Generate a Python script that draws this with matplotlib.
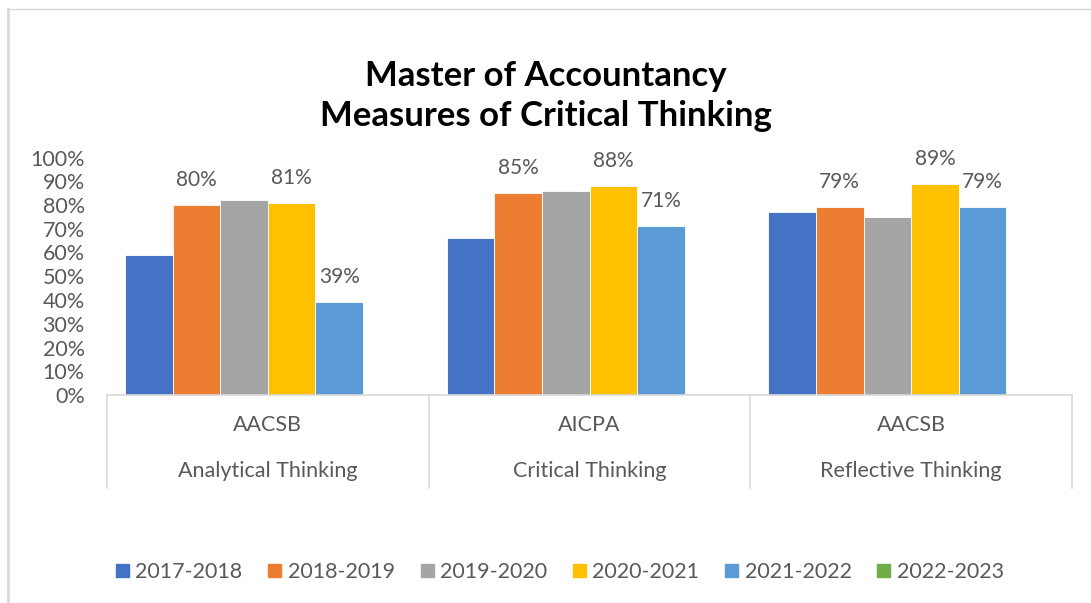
import numpy as np
import matplotlib
matplotlib.use("Agg")
import matplotlib.pyplot as plt
from matplotlib.transforms import blended_transform_factory
from matplotlib.lines import Line2D

plt.rcParams['font.family'] = ['Lato', 'DejaVu Sans']

groups = ["AACSB", "AICPA", "AACSB"]
categories = ["Analytical Thinking", "Critical Thinking", "Reflective Thinking"]
years = ["2017-2018", "2018-2019", "2019-2020", "2020-2021", "2021-2022", "2022-2023"]
values = {
    "2017-2018": [0.59, 0.66, 0.77],
    "2018-2019": [0.80, 0.85, 0.79],
    "2019-2020": [0.82, 0.86, 0.75],
    "2020-2021": [0.81, 0.88, 0.89],
    "2021-2022": [0.39, 0.71, 0.79],
    "2022-2023": [np.nan, np.nan, np.nan],
}
labelled = ["2018-2019", "2020-2021", "2021-2022"]
colors = ["#4472C4", "#ED7D31", "#A5A5A5", "#FFC000", "#5B9BD5", "#70AD47"]

fig = plt.figure(figsize=(10.91, 6.03), dpi=100)
ax = fig.add_axes([107 / 1091, 1 - 395 / 603, (1072 - 107) / 1091, 237.5 / 603])

x = np.arange(len(categories))
w = 0.148
text_col = "#595959"
line_col = "#D9D9D9"

for i, yr in enumerate(years):
    pos = x + (i - 2.5) * w
    vals = values[yr]
    ax.bar(pos, vals, w, color=colors[i], edgecolor="white", linewidth=0.6, label=yr)
    if yr in labelled:
        for px, v in zip(pos, vals):
            ax.annotate(f"{v:.0%}", (px, v), xytext=(0, 18), textcoords="offset points",
                        ha="center", va="center", fontsize=15, color=text_col)

ax.set_xlim(-0.5, 2.5)
ax.set_ylim(0, 1)
ax.set_yticks(np.arange(0, 1.01, 0.1))
ax.set_yticklabels([f"{t:.0%}" for t in np.arange(0, 1.01, 0.1)], fontsize=15.5, color=text_col)
ax.tick_params(axis="y", length=0, pad=16)
ax.set_xticks([])
for s in ax.spines.values():
    s.set_visible(False)

# two-level category axis
tr = blended_transform_factory(ax.transData, fig.transFigure)
y_base = 1 - 395 / 603
y_bot = 1 - 488 / 603
ax.add_line(Line2D([-0.5, 2.5], [y_base, y_base], transform=tr, color=line_col, lw=1.2, clip_on=False))
for xb in [-0.5, 0.5, 1.5, 2.5]:
    ax.add_line(Line2D([xb, xb], [y_base, y_bot], transform=tr, color=line_col, lw=1.2, clip_on=False))
for xi, g, c in zip(x, groups, categories):
    ax.text(xi, 1 - 425 / 603, g, transform=tr, ha="center", va="center", fontsize=15.5, color=text_col)
    ax.text(xi, 1 - 471 / 603, c, transform=tr, ha="center", va="center", fontsize=15.5, color=text_col)

fig.text(0.5, 1 - 96 / 603, "Master of Accountancy\nMeasures of Critical Thinking",
         ha="center", va="center", fontsize=25, fontweight="bold", color="black", linespacing=1.3)

# chart border
fig.add_artist(Line2D([7.5 / 1091, 7.5 / 1091], [0, 1 - 9 / 603], transform=fig.transFigure, color=line_col, lw=2))
fig.add_artist(Line2D([7.5 / 1091, 1], [1 - 9 / 603, 1 - 9 / 603], transform=fig.transFigure, color=line_col, lw=1))

handles = [plt.Rectangle((0, 0), 1, 1, color=c) for c in colors]
fig.legend(handles, years, loc="center", bbox_to_anchor=(560 / 1091, 1 - 572 / 603), ncol=6,
           frameon=False, fontsize=15.5, labelcolor=text_col, handlelength=0.6, handleheight=0.6,
           handletextpad=0.3, columnspacing=1.2)

fig.savefig("out.png", dpi=100)
